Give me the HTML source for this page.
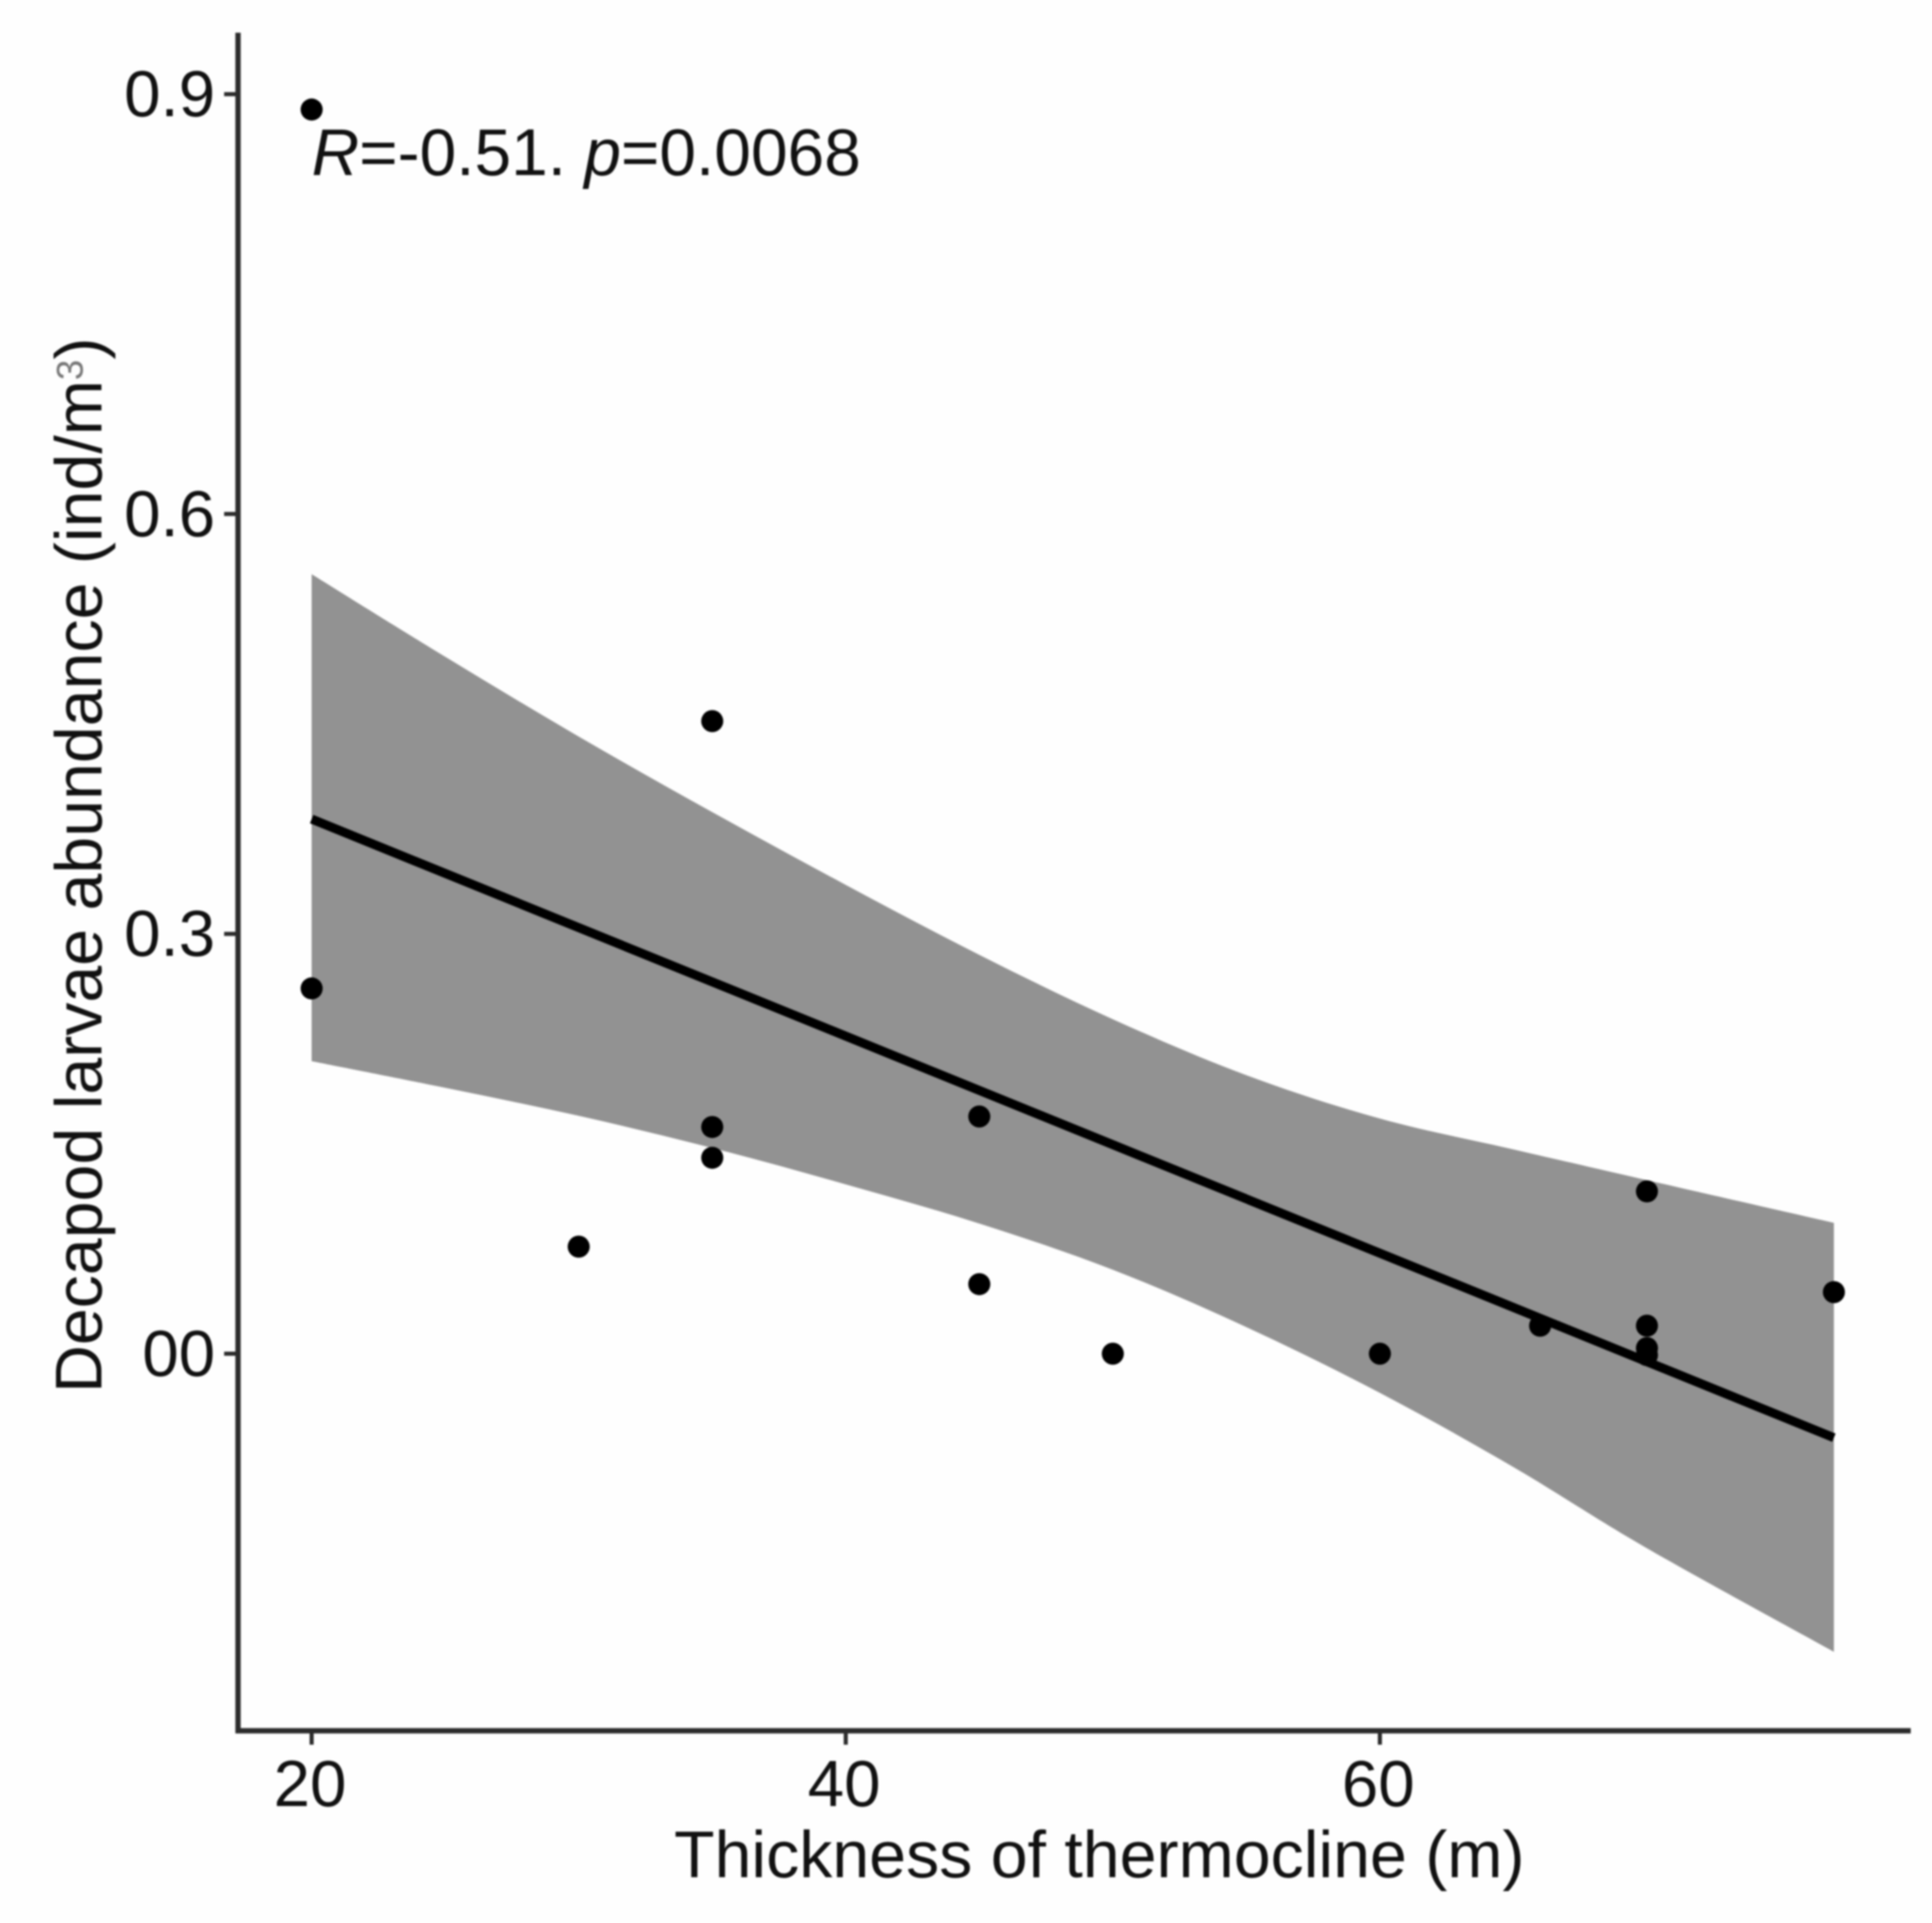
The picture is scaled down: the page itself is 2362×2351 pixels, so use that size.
<!DOCTYPE html>
<html lang="en">
<head>
<meta charset="utf-8">
<title>Decapod larvae abundance vs thickness of thermocline</title>
<style>
html,body{margin:0;padding:0;background:#fefefe;width:2362px;height:2351px;overflow:hidden}
svg{display:block;filter:blur(1px)}
text{font-family:"Liberation Sans",Arial,sans-serif;fill:#111}
</style>
</head>
<body>
<svg id="chart" xmlns="http://www.w3.org/2000/svg" width="2362" height="2351" viewBox="0 0 2362 2351">
  <rect x="-10" y="-10" width="2382" height="2371" fill="#fefefe"/>
  <g id="band-layer"></g>
  <g id="line-layer"></g>
  <g id="point-layer"></g>
  <g id="axis-layer"></g>
  <text x="381" y="214" font-size="80.5"><tspan font-style="italic">R</tspan>=-0.51. <tspan font-style="italic">p</tspan>=0.0068</text>
  <text x="1344" y="2295" font-size="81" text-anchor="middle">Thickness of thermocline (m)</text>
  <text transform="translate(124,1703) rotate(-90)" font-size="81">Decapod larvae abundance (ind/m<tspan font-size="45" dy="-23" style="fill:#777">3</tspan><tspan dy="23">)</tspan></text>
</svg>
<script>
const pointX = [20, 20, 30, 35, 35, 35, 45, 45, 50, 60, 66, 70, 70, 70, 70, 77];
const pointY = [0.889, 0.261, 0.0765, 0.452, 0.162, 0.140, 0.1695, 0.0497, 0, 0, 0.02, 0.116, 0.02, 0.004, -0.001, 0.044];
const lineX = [20, 77];
const lineY = [0.382, -0.06];
const bandX = [20, 25, 30, 35, 40, 45, 50, 55, 60, 65, 70, 77];
const bandUpper = [0.557, 0.498, 0.441, 0.387, 0.335, 0.285, 0.239, 0.199, 0.168, 0.146, 0.124, 0.0935];
const bandLower = [0.209, 0.190, 0.170, 0.147, 0.121, 0.093, 0.060, 0.019, -0.028, -0.081, -0.139, -0.213];
const xTicks = [20, 40, 60];
const xTickLabels = ["20", "40", "60"];
const yTicks = [0, 0.3, 0.6, 0.9];
const yTickLabels = ["00", "0.3", "0.6", "0.9"];

const NS = "http://www.w3.org/2000/svg";
function sx(v){ return 381 + (v - 20) * 32.65; }
function sy(v){ return 1655 - v * 1711; }
function make(tag, attrs, parent){
  const el = document.createElementNS(NS, tag);
  for (const k in attrs) el.setAttribute(k, attrs[k]);
  parent.appendChild(el);
  return el;
}
function smoothSegments(pts){
  let d = "";
  for (let i = 0; i < pts.length - 1; i++) {
    const p0 = pts[Math.max(i - 1, 0)];
    const p1 = pts[i];
    const p2 = pts[i + 1];
    const p3 = pts[Math.min(i + 2, pts.length - 1)];
    const c1x = p1[0] + (p2[0] - p0[0]) / 6;
    const c1y = p1[1] + (p2[1] - p0[1]) / 6;
    const c2x = p2[0] - (p3[0] - p1[0]) / 6;
    const c2y = p2[1] - (p3[1] - p1[1]) / 6;
    d += " C" + c1x + "," + c1y + " " + c2x + "," + c2y + " " + p2[0] + "," + p2[1];
  }
  return d;
}
const bandLayer = document.getElementById("band-layer");
const lineLayer = document.getElementById("line-layer");
const pointLayer = document.getElementById("point-layer");
const axisLayer = document.getElementById("axis-layer");

const upperPts = bandX.map(function(x, i){ return [sx(x), sy(bandUpper[i])]; });
const lowerPts = bandX.map(function(x, i){ return [sx(x), sy(bandLower[i])]; }).reverse();
const bandPath = "M" + upperPts[0][0] + "," + upperPts[0][1] + smoothSegments(upperPts) +
  " L" + lowerPts[0][0] + "," + lowerPts[0][1] + smoothSegments(lowerPts) + " Z";
const band = make("path", {d: bandPath, fill: "#929292"}, bandLayer);



const trend = make("line", {x1: sx(lineX[0]), y1: sy(lineY[0]), x2: sx(lineX[1]), y2: sy(lineY[1]), stroke: "#000", "stroke-width": 11}, lineLayer);



pointX.forEach(function(x, i){
  const dot = make("circle", {cx: sx(x), cy: sy(pointY[i]), r: 13.5, fill: "#000"}, pointLayer);
  
  
});

const yAxis = make("line", {x1: 291, y1: 40, x2: 291, y2: 2119, stroke: "#2b2b2b", "stroke-width": 6.5}, axisLayer);


const xAxis = make("line", {x1: 288, y1: 2116, x2: 2336, y2: 2116, stroke: "#2b2b2b", "stroke-width": 6.5}, axisLayer);



xTicks.forEach(function(v, i){
  const tick = make("line", {x1: sx(v), y1: 2116, x2: sx(v), y2: 2133, stroke: "#2b2b2b", "stroke-width": 5}, axisLayer);
  
  
  const label = make("text", {x: sx(v) - 2, y: 2208, "font-size": 80, "text-anchor": "middle"}, axisLayer);
  label.textContent = xTickLabels[i];
  
  
});
yTicks.forEach(function(v, i){
  const tick = make("line", {x1: 274, y1: sy(v), x2: 291, y2: sy(v), stroke: "#2b2b2b", "stroke-width": 5}, axisLayer);
  
  
  const label = make("text", {x: 263, y: sy(v) + 27, "font-size": 80, "text-anchor": "end"}, axisLayer);
  label.textContent = yTickLabels[i];
  
  
});
</script>
</body>
</html>
